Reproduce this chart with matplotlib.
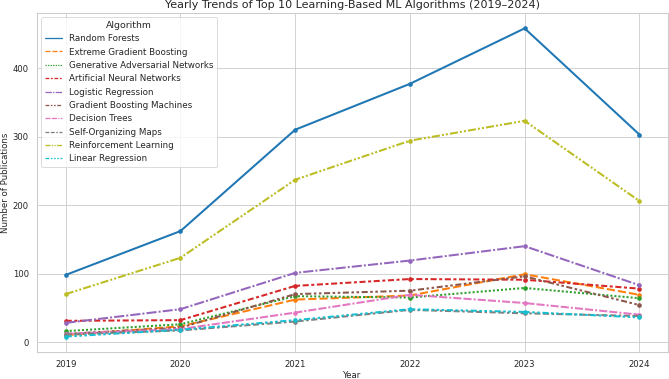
import pandas as pd
import seaborn as sns
from matplotlib import pyplot as plt

years = [2019, 2020, 2021, 2022, 2023, 2024]

algorithms = [
    "Random Forests",
    "Extreme Gradient Boosting",
    "Generative Adversarial Networks",
    "Artificial Neural Networks",
    "Logistic Regression",
    "Gradient Boosting Machines",
    "Decision Trees",
    "Self-Organizing Maps",
    "Reinforcement Learning",
    "Linear Regression",
]

random_forests = [98, 162, 310, 377, 458, 303]
extreme_gb = [10, 23, 62, 68, 99, 69]
gan = [16, 26, 67, 65, 79, 64]
ann = [31, 32, 82, 92, 91, 78]
logistic = [28, 48, 101, 119, 140, 83]
gbm = [12, 21, 70, 75, 96, 54]
decision_trees = [12, 19, 43, 69, 57, 40]
som = [11, 17, 30, 47, 42, 38]
reinforcement = [70, 123, 237, 294, 323, 206]
linear = [8, 18, 32, 48, 44, 36]

values = [random_forests, extreme_gb, gan, ann, logistic,
          gbm, decision_trees, som, reinforcement, linear]

rows = []
for name, vals in zip(algorithms, values):
    for y, v in zip(years, vals):
        rows.append({"Year": y, "Algorithm": name, "Publications": v})
df = pd.DataFrame(rows)

sns.set_theme(style="whitegrid")
plt.rcParams.update({
    "xtick.labelsize": 10,
    "ytick.labelsize": 10,
    "axes.labelsize": 10.2,
    "legend.fontsize": 10.3,
    "legend.title_fontsize": 11,
})

dpi = 61
fig, ax = plt.subplots(figsize=(669 / dpi + 0.001, 379 / dpi + 0.001), dpi=dpi)

sns.lineplot(data=df, x="Year", y="Publications", hue="Algorithm", style="Algorithm",
             hue_order=algorithms, style_order=algorithms, palette="tab10",
             marker="o", linewidth=2.4, markersize=5.5, markeredgewidth=0, ax=ax)

ax.set_title("Yearly Trends of Top 10 Learning-Based ML Algorithms (2019–2024)", fontsize=13.2)
ax.set_xlabel("Year", labelpad=2)
ax.set_ylabel("Number of Publications", labelpad=3)
ax.set_xticks(years)
sns.move_legend(ax, "upper left", title="Algorithm")
for h in ax.get_legend().get_lines():
    h.set_marker("")
    h.set_linewidth(1.5)

plt.subplots_adjust(left=37 / 669, right=668 / 669, top=1 - 13 / 379, bottom=1 - 352 / 379)
plt.savefig("out.png", dpi=dpi)
